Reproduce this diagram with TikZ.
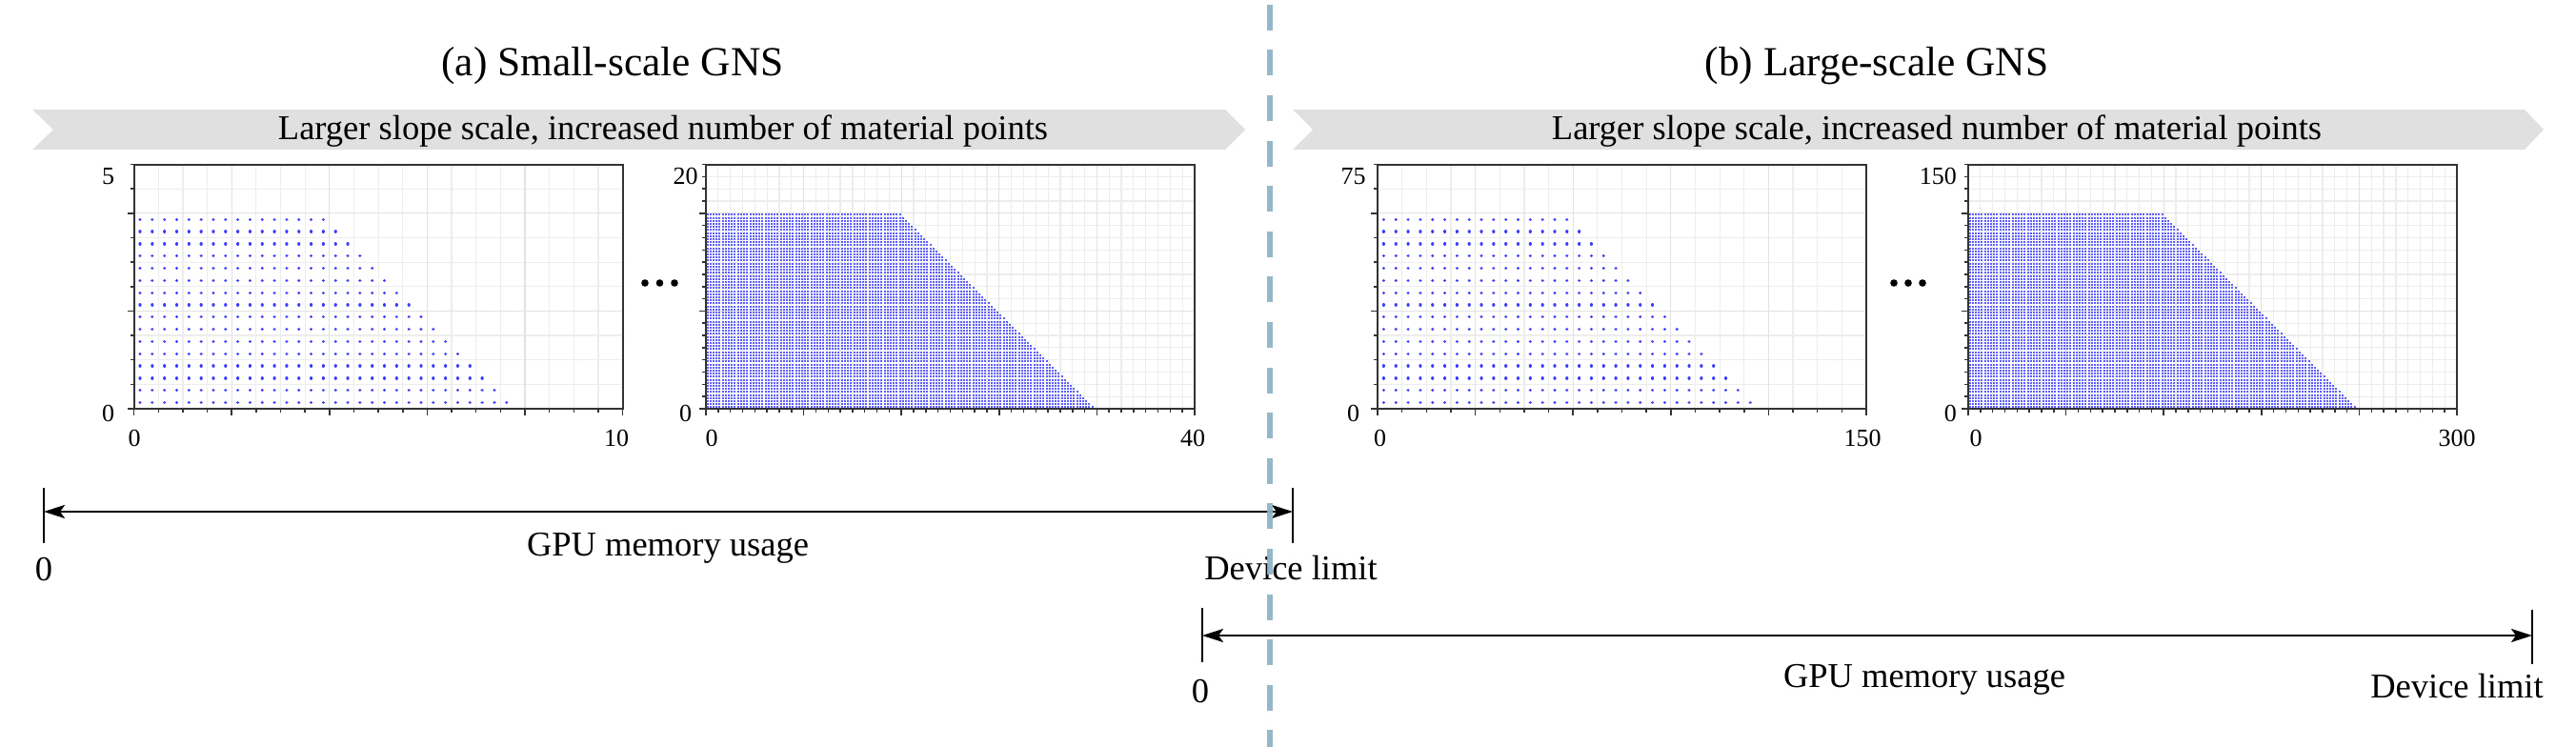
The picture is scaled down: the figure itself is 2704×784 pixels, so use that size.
\documentclass[tikz,border=0pt]{standalone}
\usepackage{fontspec}
\setmainfont{Liberation Serif}
\usetikzlibrary{arrows.meta}
\definecolor{bannergray}{HTML}{E0E0E0}
\definecolor{sepblue}{HTML}{8DB1C5}
\definecolor{dotblue}{RGB}{60,60,255}
\definecolor{densecol}{RGB}{95,95,255}
\definecolor{framegray}{HTML}{333333}
\definecolor{gridminorc}{HTML}{EDEDED}
\definecolor{gridmajorc}{HTML}{E2E2E2}
\tikzset{
  banner/.style={fill=bannergray, draw=none},
  bannertext/.style={font=\fontsize{36.5}{40}\selectfont, anchor=base, inner sep=0pt},
  titletext/.style={font=\fontsize{43.4}{48}\selectfont, anchor=base, inner sep=0pt},
  ticklabel/.style={font=\fontsize{26}{30}\selectfont, anchor=base, inner sep=0pt},
  memtext/.style={font=\fontsize{36.5}{40}\selectfont, anchor=base, inner sep=0pt},
  plotframe/.style={draw=framegray, line width=2pt},
  tickmark/.style={draw=framegray, line width=1.5pt},
  gridminorline/.style={draw=gridminorc, line width=1.2pt},
  gridmajorline/.style={draw=gridmajorc, line width=1.2pt},
  sparsedots/.style={draw=dotblue, line width=3.3pt, line cap=round, dash pattern=on 0.01pt off 12.815pt},
  densedots/.style={draw=densecol, line width=2pt, line cap=butt, dash pattern=on 2pt off 1.20625pt},
  memarrow/.style={line width=2.6pt, {Stealth[length=22pt,width=14pt,inset=5pt]}-{Stealth[length=22pt,width=14pt,inset=5pt]}},
  membar/.style={line width=2pt},
  sepline/.style={draw=sepblue, line width=5.5pt, dash pattern=on 27pt off 20.6pt, dash phase=42.8pt, opacity=0.92},
  ellipsisdot/.style={fill=black}
}
\newcommand{\mpsparse}[1]{%
  \begin{scope}[shift={(#1,429)}, x=51.3pt, y=51.3pt]
    \draw[gridminorline, step=0.5] (0,0) grid (10,5);
    \draw[gridmajorline, step=2] (0,0) grid (10,5);
    \foreach \j in {0,...,15} {
      \pgfmathsetmacro\yy{0.125+0.25*\j}
      \pgfmathsetmacro\xe{0.125+0.25*(30-\j)+0.02}
      \draw[sparsedots] (0.125,\yy) -- (\xe,\yy);
    }
    \draw[plotframe] (0,0) rectangle (10,5);
    \foreach \i in {0,...,20} {\draw[tickmark] (\i*0.5,0) -- ++(0,-4pt);}
    \foreach \i in {0,...,5} {\draw[tickmark] (\i*2,0) -- ++(0,-7pt);}
    \foreach \i in {0,...,10} {\draw[tickmark] (0,\i*0.5) -- ++(-4pt,0);}
    \foreach \i in {0,...,2} {\draw[tickmark] (0,\i*2) -- ++(-7pt,0);}
  \end{scope}}
\newcommand{\mpdense}[1]{%
  \begin{scope}[shift={(#1,429)}, x=51.3pt, y=51.3pt]
    \draw[gridminorline, step=0.25] (0,0) grid (10,5);
    \draw[gridmajorline, step=2] (0,0) grid (10,5);
    \foreach \j in {0,...,63} {
      \pgfmathsetmacro\yy{0.03125+0.0625*\j}
      \pgfmathsetmacro\xe{0.03125+0.0625*(126-\j)+0.0205}
      \draw[densedots] (0.01176,\yy) -- (\xe,\yy);
    }
    \draw[plotframe] (0,0) rectangle (10,5);
    \foreach \i in {0,...,40} {\draw[tickmark] (\i*0.25,0) -- ++(0,-4pt);}
    \foreach \i in {0,...,5} {\draw[tickmark] (\i*2,0) -- ++(0,-7pt);}
    \foreach \i in {0,...,20} {\draw[tickmark] (0,\i*0.25) -- ++(-4pt,0);}
    \foreach \i in {0,...,2} {\draw[tickmark] (0,\i*2) -- ++(-7pt,0);}
  \end{scope}}
\begin{document}
\begin{tikzpicture}[x=1pt,y=-1pt]
\useasboundingbox (0,0) rectangle (2704,784);
% titles
\node[titletext] (ta) at (643,79) {(a) Small-scale GNS};
\node[titletext] (tb) at (1970,79) {(b) Large-scale GNS};
% banners
\fill[banner] (34,115) -- (1286,115) -- (1307,136) -- (1286,157) -- (34,157) -- (56,136) -- cycle;
\fill[banner] (1357,115) -- (2650,115) -- (2670,136) -- (2650,157) -- (1357,157) -- (1378,136) -- cycle;
\node[bannertext] (ba) at (696,146) {Larger slope scale, increased number of material points};
\node[bannertext] (bb) at (2033,146) {Larger slope scale, increased number of material points};
% panels
\mpsparse{140.6}
\mpdense{741}
\mpsparse{1446}
\mpdense{2066}
% tick labels panel 1
\node[ticklabel] (p1y5) at (113.5,193) {5};
\node[ticklabel] (p1y0) at (113.5,442) {0};
\node[ticklabel] (p1x0) at (141,468) {0};
\node[ticklabel] (p1x10) at (647,468) {10};
% panel 2
\node[ticklabel] (p2y20) at (719.5,193) {20};
\node[ticklabel] (p2y0) at (719.5,442) {0};
\node[ticklabel] (p2x0) at (747,468) {0};
\node[ticklabel] (p2x40) at (1252,468) {40};
% panel 3
\node[ticklabel] (p3y75) at (1420.5,193) {75};
\node[ticklabel] (p3y0) at (1420.5,442) {0};
\node[ticklabel] (p3x0) at (1448.5,468) {0};
\node[ticklabel] (p3x150) at (1955,468) {150};
% panel 4
\node[ticklabel, anchor=base east] (p4y150) at (2054,193) {150};
\node[ticklabel, anchor=base east] (p4y0) at (2054,442) {0};
\node[ticklabel] (p4x0) at (2074,468) {0};
\node[ticklabel] (p4x300) at (2579,468) {300};
% ellipses
\foreach \x in {677,692.5,708} {\fill[ellipsisdot] (\x,297) circle (3.8pt);}
\foreach \x in {1988,2003,2018} {\fill[ellipsisdot] (\x,297) circle (3.8pt);}
% memory arrow (a)
\coordinate (la) at (46,537);
\coordinate (ra) at (1357,537);
\draw[membar] (46,512) -- (46,570);
\draw[membar] (1357,512) -- (1357,570);
\draw[memarrow] (la) -- (ra);
\node[memtext] (gpua) at (701,583) {GPU memory usage};
\node[memtext] (zeroa) at (46,609) {0};
\node[memtext] (deva) at (1355,608) {Device limit};
% memory arrow (b)
\coordinate (lb) at (1262,667);
\coordinate (rb) at (2658,667);
\draw[membar] (1262,638) -- (1262,695);
\draw[membar] (2658,640) -- (2658,697);
\draw[memarrow] (lb) -- (rb);
\node[memtext] (gpub) at (2020,721) {GPU memory usage};
\node[memtext] (zerob) at (1260,737) {0};
\node[memtext] (devb) at (2579,732) {Device limit};
% separator
\coordinate (st) at (1333,0);
\coordinate (sb) at (1333,784);
\draw[sepline] (st) -- (sb);
\end{tikzpicture}
\end{document}
